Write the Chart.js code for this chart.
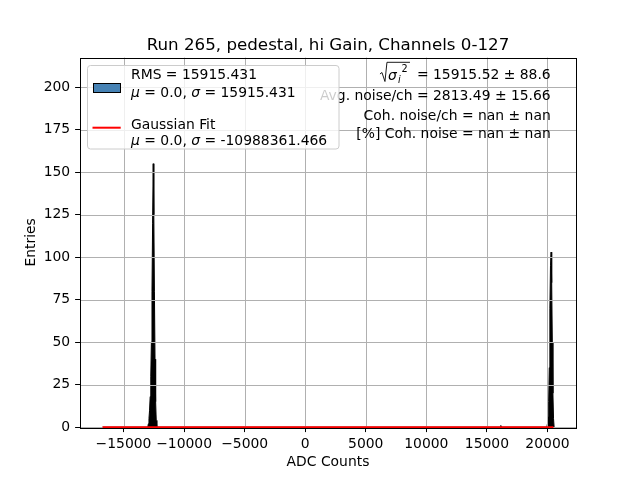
<!DOCTYPE html>
<html>
<head>
<meta charset="utf-8">
<script src="https://cdn.jsdelivr.net/npm/chart.js@4"></script>
<style>
  html, body { margin: 0; padding: 0; background: #fff; }
</style>
</head>
<body>
<canvas id="rmsChart" width="640" height="480"></canvas>
<script>
// histogram of channel RMS (ADC counts / entries)
const histX = [-16733, -13000, -12950, -12900, -12850, -12800, -12750, -12700, -12650, -12600, -12550, -12500, -12450, -12400, -12350, -12300, -12250,
               16100, 16150, 16200,
               19950, 20000, 20050, 20100, 20150, 20200, 20250, 20300, 20350, 20400, 20450, 20500, 20550];
const histY = [0, 0, 2, 5, 10, 18, 30, 50, 80, 120, 155, 125, 80, 40, 15, 4, 0,
               0, 1, 0,
               0, 2, 6, 15, 35, 70, 95, 103, 85, 50, 20, 5, 0];

// gaussian fit (flat, sigma is nonsense)
const fitX = [-16733, 20495];
const fitY = [0, 0];

const xTicks = [-15000, -10000, -5000, 0, 5000, 10000, 15000, 20000];
const yTicks = [0, 25, 50, 75, 100, 125, 150, 175, 200];

const titleText = 'Run 265, pedestal, hi Gain, Channels 0-127';
const legendRms = ['RMS = 15915.431', '15915.431'];
const legendFit = ['Gaussian Fit', '-10988361.466'];
const statLines = ['= 15915.52 \u00b1 88.6', 'Avg. noise/ch = 2813.49 \u00b1 15.66', 'Coh. noise/ch = nan \u00b1 nan', '[%] Coh. noise = nan \u00b1 nan'];

const FONT = 'DejaVu Sans';
Chart.defaults.font.family = FONT;
Chart.defaults.font.size = 13.9;
Chart.defaults.color = '#000';

// draw text runs, some in italic (mathtext style)
function drawRuns(ctx, runs, x, y) {
    runs.forEach(r => {
        ctx.font = (r[1] ? 'italic ' : '') + '13.9px "' + FONT + '"';
        ctx.fillText(r[0], x, y);
        x += ctx.measureText(r[0]).width;
    });
}

const decorPlugin = {
    id: 'decor',
    afterDatasetDraw(chart, args) {
        // grid goes above the histogram, below the fit line
        if (args.index !== 1) return;
        const ctx = chart.ctx, a = chart.chartArea;
        const xs = chart.scales.x, ys = chart.scales.y;
        ctx.save();
        ctx.strokeStyle = '#b0b0b0';
        ctx.lineWidth = 1;
        xTicks.forEach(v => {
            const px = Math.round(xs.getPixelForValue(v)) + 0.5;
            ctx.beginPath(); ctx.moveTo(px, a.top); ctx.lineTo(px, a.bottom); ctx.stroke();
        });
        yTicks.forEach(v => {
            const py = Math.round(ys.getPixelForValue(v)) + 0.5;
            ctx.beginPath(); ctx.moveTo(a.left, py); ctx.lineTo(a.right, py); ctx.stroke();
        });
        ctx.restore();
    },
    afterDraw(chart) {
        const ctx = chart.ctx, a = chart.chartArea;
        ctx.save();
        // spines
        ctx.strokeStyle = '#000';
        ctx.lineWidth = 1;
        ctx.strokeRect(Math.round(a.left) + 0.5, Math.round(a.top) + 0.5, Math.round(a.right - a.left), Math.round(a.bottom - a.top));

        // title + axis labels
        ctx.fillStyle = '#000';
        ctx.textAlign = 'center';
        ctx.textBaseline = 'alphabetic';
        ctx.font = '16.7px "' + FONT + '"';
        ctx.fillText(titleText, (a.left + a.right) / 2, 49.5);
        ctx.font = '13.9px "' + FONT + '"';
        ctx.textBaseline = 'middle';
        ctx.fillText('ADC Counts', (a.left + a.right) / 2, 462);
        ctx.save();
        ctx.translate(31, (a.top + a.bottom) / 2);
        ctx.rotate(-Math.PI / 2);
        ctx.fillText('Entries', 0, 0);
        ctx.restore();

        // stats text, right aligned
        const rx = 550.7;
        ctx.textAlign = 'right';
        ctx.fillText(statLines[0], rx, 75);
        ctx.fillText(statLines[1], rx, 96.7);
        ctx.fillText(statLines[2], rx, 116.7);
        ctx.fillText(statLines[3], rx, 134);
        // sqrt(sigma_i^2)
        const x0 = rx - ctx.measureText(statLines[0]).width - 29;
        ctx.textAlign = 'left';
        ctx.font = 'italic 13.9px "' + FONT + '"';
        ctx.fillText('\u03c3', x0, 76);
        ctx.font = 'italic 9.7px "' + FONT + '"';
        ctx.fillText('i', x0 + 10, 80);
        ctx.font = '9.7px "' + FONT + '"';
        ctx.fillText('2', x0 + 13.5, 69);
        ctx.beginPath();
        ctx.moveTo(x0 - 8, 74);
        ctx.lineTo(x0 - 6, 72.5);
        ctx.lineTo(x0 - 3, 81.5);
        ctx.lineTo(x0 - 1, 62.3);
        ctx.lineTo(x0 + 22, 62.3);
        ctx.lineWidth = 0.9;
        ctx.stroke();

        // legend box
        ctx.beginPath();
        ctx.roundRect(87.5, 65.5, 251.5, 83.5, 3);
        ctx.fillStyle = 'rgba(255,255,255,0.8)';
        ctx.fill();
        ctx.strokeStyle = '#cccccc';
        ctx.lineWidth = 1;
        ctx.stroke();

        ctx.fillStyle = '#4682b4';
        ctx.fillRect(93.5, 83.5, 27, 9);
        ctx.strokeStyle = '#000';
        ctx.strokeRect(93.5, 83.5, 27, 9);
        ctx.strokeStyle = '#ff0000';
        ctx.lineWidth = 2;
        ctx.beginPath(); ctx.moveTo(92.5, 127.7); ctx.lineTo(120.7, 127.7); ctx.stroke();

        ctx.fillStyle = '#000';
        ctx.textBaseline = 'middle';
        drawRuns(ctx, [[legendRms[0], false]], 131, 75.7);
        drawRuns(ctx, [['\u03bc', true], [' = 0.0, ', false], ['\u03c3', true], [' = ' + legendRms[1], false]], 131, 93.3);
        drawRuns(ctx, [[legendFit[0], false]], 131, 125);
        drawRuns(ctx, [['\u03bc', true], [' = 0.0, ', false], ['\u03c3', true], [' = ' + legendFit[1], false]], 131, 141.7);
        ctx.restore();
    }
};

const ctx = document.getElementById('rmsChart').getContext('2d');
const rmsChart = new Chart(ctx, {
    type: 'line',
    data: {
        datasets: [{
            label: 'Gaussian Fit',
            data: fitX.map((x, i) => ({ x: x, y: fitY[i] })),
            borderColor: '#ff0000',
            borderWidth: 2,
            pointRadius: 0,
            fill: false,
            order: 1,
            clip: 4
        }, {
            label: 'RMS',
            data: histX.map((x, i) => ({ x: x, y: histY[i] })),
            borderColor: '#000',
            backgroundColor: '#000',
            borderWidth: 1,
            pointRadius: 0,
            tension: 0,
            fill: 'origin',
            order: 2
        }]
    },
    options: {
        responsive: false,
        animation: false,
        devicePixelRatio: 1,
        layout: { padding: { left: 0, top: 57.6, right: 64, bottom: 0 } },
        plugins: {
            legend: { display: false },
            tooltip: { enabled: false }
        },
        scales: {
            x: {
                type: 'linear',
                min: -18594,
                max: 22356,
                afterBuildTicks: s => { s.ticks = xTicks.map(v => ({ value: v })); },
                afterFit: s => { s.height = 52.8; },
                ticks: {
                    padding: 4,
                    maxRotation: 0,
                    callback: v => String(v).replace('-', '\u2212')
                },
                grid: { drawOnChartArea: false, tickColor: '#000', tickLength: 4.9, tickWidth: 1 },
                border: { display: false }
            },
            y: {
                type: 'linear',
                min: 0,
                max: 217.4,
                afterBuildTicks: s => { s.ticks = yTicks.map(v => ({ value: v })); },
                afterFit: s => { s.width = 80; },
                ticks: { padding: 4.9 },
                grid: { drawOnChartArea: false, tickColor: '#000', tickLength: 4.9, tickWidth: 1 },
                border: { display: false }
            }
        }
    },
    plugins: [decorPlugin]
});
</script>
</body>
</html>
